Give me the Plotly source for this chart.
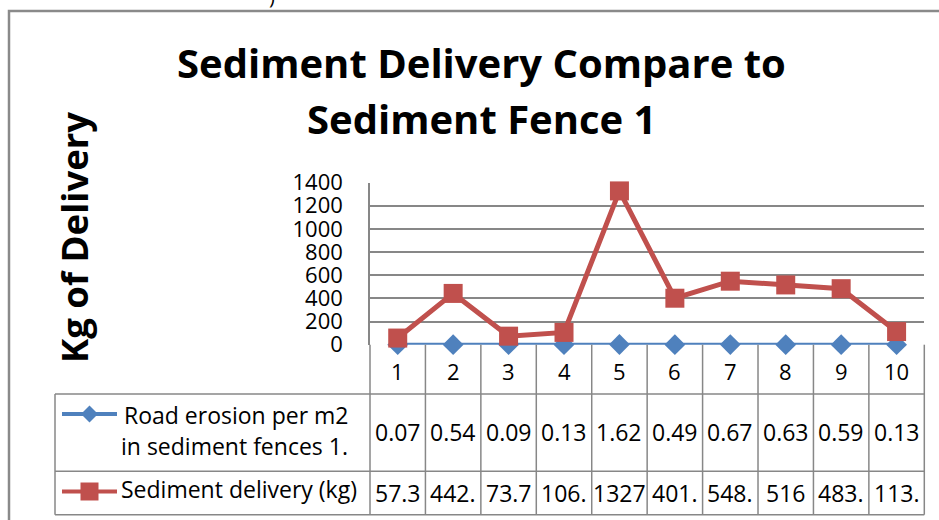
import plotly.graph_objects as go

# ---------------- data ----------------
categories = [1, 2, 3, 4, 5, 6, 7, 8, 9, 10]
road_erosion = [0.07, 0.54, 0.09, 0.13, 1.62, 0.49, 0.67, 0.63, 0.59, 0.13]
sediment_delivery = [57.3, 442.6, 73.7, 106.2, 1327.4, 401.3, 548.2, 516, 483.5, 113.4]
y_ticks = [0, 200, 400, 600, 800, 1000, 1200, 1400]
series_names = ["Road erosion per m2<br>in sediment fences 1.", "Sediment delivery (kg)"]
title_lines = ["Sediment Delivery Compare to", "Sediment Fence 1"]
y_title = "Kg of Delivery"

# ---------------- layout geometry (pixels) ----------------
W, H = 939, 520
PL, PR, PT, PB = 370, 924.3, 182.5, 344.7
HEAD_B, ROW1_B, ROW2_B = 394.0, 471.2, 514.7
TAB_L = 55
GRID = "#878787"
BLUE = "#4F81BD"
RED = "#C0504D"
FONT = "Open Sans"


def px(x):
    return x / W


def py(y):
    return 1 - y / H


def cell_text(v):
    return str(v)[:4]


N = len(categories)
edges = [PL + k * (PR - PL) / N for k in range(N + 1)]

fig = go.Figure()
fig.add_trace(go.Scatter(
    x=categories, y=road_erosion, mode="lines+markers",
    line=dict(color=BLUE, width=4),
    marker=dict(symbol="diamond", size=16, color=BLUE),
    cliponaxis=False, showlegend=False))
fig.add_trace(go.Scatter(
    x=categories, y=sediment_delivery, mode="lines+markers",
    line=dict(color=RED, width=5),
    marker=dict(symbol="square", size=19, color=RED),
    cliponaxis=False, showlegend=False))

shapes = []
# outer chart border
shapes.append(dict(type="rect", xref="paper", yref="paper",
                   x0=px(9), x1=px(W + 10), y0=py(11), y1=py(H + 10),
                   line=dict(color="#8a8a8a", width=2.5)))
# table vertical lines under each category
for e in edges:
    shapes.append(dict(type="line", xref="paper", yref="paper",
                       x0=px(e), x1=px(e), y0=py(PB), y1=py(ROW2_B),
                       line=dict(color=GRID, width=1.5)))
# table left border
shapes.append(dict(type="line", xref="paper", yref="paper",
                   x0=px(TAB_L), x1=px(TAB_L), y0=py(HEAD_B), y1=py(ROW2_B),
                   line=dict(color=GRID, width=1.5)))
for yy in (HEAD_B, ROW1_B, ROW2_B):
    shapes.append(dict(type="line", xref="paper", yref="paper",
                       x0=px(TAB_L), x1=px(PR), y0=py(yy), y1=py(yy),
                       line=dict(color=GRID, width=1.5)))

# legend keys
key_x0, key_x1 = 62, 117
key_c = (key_x0 + key_x1) / 2
k1y, k2y = 414, 491.5
shapes.append(dict(type="line", xref="paper", yref="paper",
                   x0=px(key_x0), x1=px(key_x1), y0=py(k1y), y1=py(k1y),
                   line=dict(color=BLUE, width=4)))
d = 8.5
shapes.append(dict(type="path", xref="paper", yref="paper",
                   path=f"M {px(key_c - d)},{py(k1y)} L {px(key_c)},{py(k1y - d)} "
                        f"L {px(key_c + d)},{py(k1y)} L {px(key_c)},{py(k1y + d)} Z",
                   fillcolor=BLUE, line=dict(color=BLUE, width=0)))
shapes.append(dict(type="line", xref="paper", yref="paper",
                   x0=px(key_x0), x1=px(key_x1), y0=py(k2y), y1=py(k2y),
                   line=dict(color=RED, width=4)))
s = 9
shapes.append(dict(type="rect", xref="paper", yref="paper",
                   x0=px(key_c - s), x1=px(key_c + s), y0=py(k2y - s), y1=py(k2y + s),
                   fillcolor=RED, line=dict(color=RED, width=0)))

ann = []


def add_text(text, x, y, size, xref="paper", xanchor="center", angle=0):
    ann.append(dict(text=text, x=x, y=y, xref=xref, yref="paper",
                    xanchor=xanchor, yanchor="middle", textangle=angle,
                    showarrow=False, font=dict(size=size, family=FONT, color="black")))


# fragment of text above the chart
add_text(")", px(272), py(-4), 20)
# title
add_text(f"<b>{title_lines[0]}</b>", px(481.5), py(62), 40)
add_text(f"<b>{title_lines[1]}</b>", px(481), py(119), 40)
# y title
add_text(f"<b>{y_title}</b>", px(74), py(238), 36.5, angle=-90)
# category header labels
for c in categories:
    add_text(str(c), c, py(371), 22, xref="x")
# table values
for c, v in zip(categories, road_erosion):
    add_text(cell_text(v), c, py(432), 23, xref="x")
for c, v in zip(categories, sediment_delivery):
    add_text(cell_text(v), c, py(493), 23, xref="x")
# legend texts
name1a, name1b = series_names[0].split("<br>")
add_text(name1a, px(122), py(415), 23, xanchor="left")
add_text(name1b, px(119), py(446), 23, xanchor="left")
add_text(series_names[1], px(119), py(489), 23, xanchor="left")

fig.update_layout(
    width=W, height=H,
    margin=dict(l=0, r=0, t=0, b=0, autoexpand=False),
    paper_bgcolor="white", plot_bgcolor="white",
    font=dict(family=FONT, color="black"),
    xaxis=dict(domain=[px(PL), px(PR)], range=[0.5, N + 0.5], showgrid=False,
               zeroline=False, showline=False, showticklabels=False, ticks="",
               automargin=False),
    yaxis=dict(domain=[py(PB), py(PT)], range=[0, 1400], tickvals=y_ticks,
               showgrid=True, gridcolor=GRID, gridwidth=1.5, zeroline=False,
               showline=True, linecolor=GRID, linewidth=1.5, ticks="",
               automargin=False, ticklabelstandoff=21,
               tickfont=dict(size=22, family=FONT, color="black")),
    shapes=shapes, annotations=ann,
)

fig.write_html("out.html", config={"displayModeBar": False},
               post_script="document.body.style.margin='0';document.body.style.overflow='hidden';")
